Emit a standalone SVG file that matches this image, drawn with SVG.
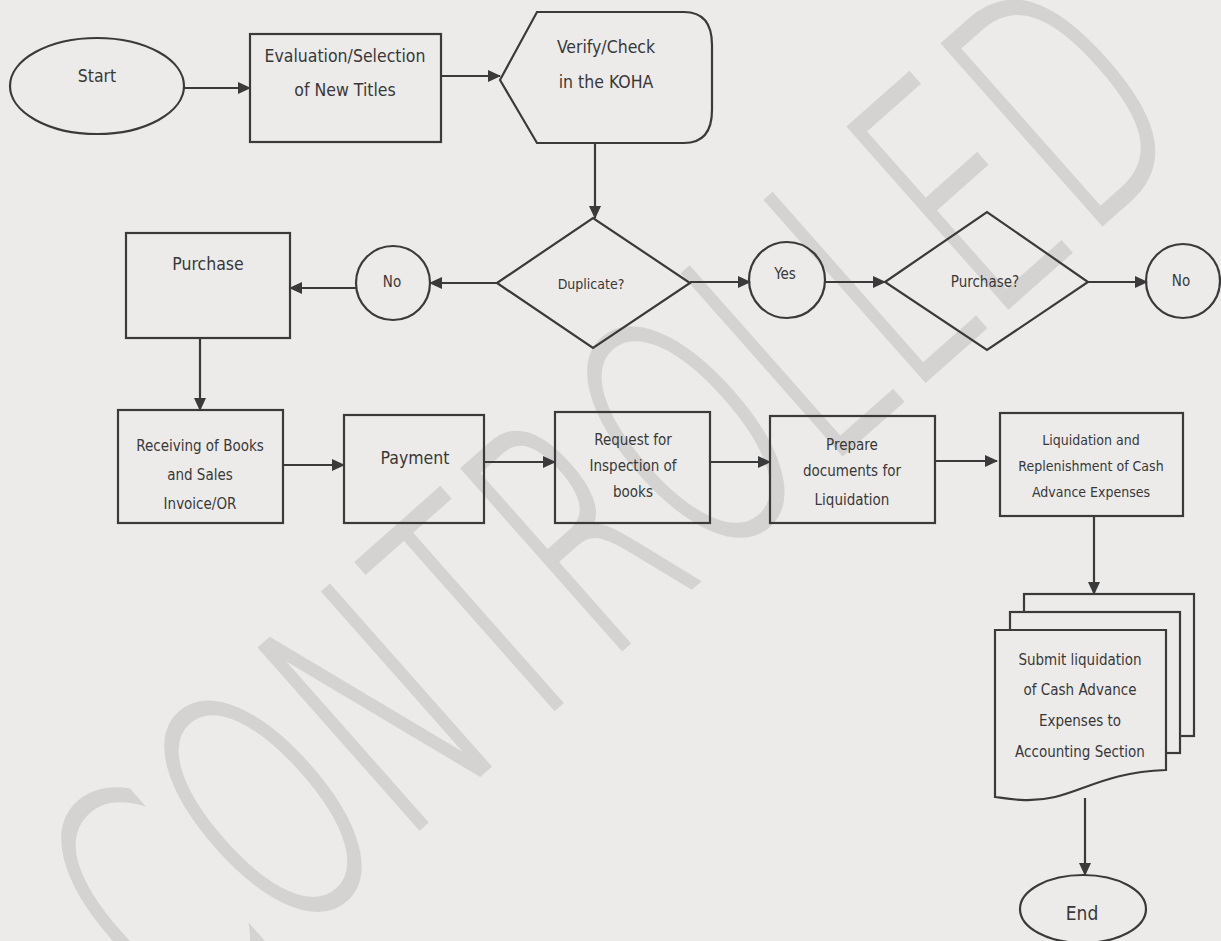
<svg xmlns="http://www.w3.org/2000/svg" width="1221" height="941" viewBox="0 0 1221 941">
  <style>
    .shape { fill: none; stroke: #3a3a3a; stroke-width: 2.2; }
    .page { fill: #ecebea; stroke: #3a3a3a; stroke-width: 2.2; }
    .edge { fill: none; stroke: #3a3a3a; stroke-width: 2.2; }
    .lbl { font-family: "Liberation Sans Narrow", "DejaVu Sans Condensed", "Liberation Sans", sans-serif; fill: #383838; text-anchor: middle; dominant-baseline: central; font-size: 17.5px; }
    .sm { font-size: 15px; }
    .xs { font-size: 14px; }
    .wm { font-family: "DejaVu Sans", "Liberation Sans", sans-serif; font-weight: 200; fill: #d5d2d2; stroke: #d5d2d2; stroke-width: 4; font-size: 330px; }
  </style>
  <defs>
    <marker id="arrow" markerUnits="userSpaceOnUse" markerWidth="13" markerHeight="12" refX="12" refY="6" orient="auto">
      <path d="M0,0 L13,6 L0,12 z" fill="#3a3a3a"/>
    </marker>
  </defs>

  <!-- paper -->
  <rect x="0" y="0" width="1221" height="941" fill="#ecebea"/>

  <!-- diagonal watermark -->
  <text class="wm" x="180" y="1040" textLength="1360" lengthAdjust="spacingAndGlyphs" transform="rotate(-41.5 180 1040)">CONTROLLED</text>

  <!-- connectors -->
  <g id="connectors">
    <line class="edge" x1="184" y1="88" x2="250" y2="88" marker-end="url(#arrow)"/>
    <line class="edge" x1="441" y1="76" x2="500" y2="76" marker-end="url(#arrow)"/>
    <line class="edge" x1="595" y1="143" x2="595" y2="218" marker-end="url(#arrow)"/>
    <line class="edge" x1="497" y1="283" x2="430" y2="283" marker-end="url(#arrow)"/>
    <line class="edge" x1="356" y1="288" x2="290" y2="288" stroke-width="4" marker-end="url(#arrow)"/>
    <line class="edge" x1="200" y1="338" x2="200" y2="410" marker-end="url(#arrow)"/>
    <line class="edge" x1="690" y1="282" x2="750" y2="282" marker-end="url(#arrow)"/>
    <line class="edge" x1="825" y1="282" x2="885" y2="282" marker-end="url(#arrow)"/>
    <line class="edge" x1="1088" y1="282" x2="1147" y2="282" marker-end="url(#arrow)"/>
    <line class="edge" x1="283" y1="465" x2="344" y2="465" marker-end="url(#arrow)"/>
    <line class="edge" x1="484" y1="462" x2="555" y2="462" marker-end="url(#arrow)"/>
    <line class="edge" x1="710" y1="462" x2="770" y2="462" marker-end="url(#arrow)"/>
    <line class="edge" x1="935" y1="461" x2="997" y2="461" marker-end="url(#arrow)"/>
    <line class="edge" x1="1094" y1="516" x2="1094" y2="594" marker-end="url(#arrow)"/>
    <line class="edge" x1="1085" y1="798" x2="1085" y2="875" marker-end="url(#arrow)"/>
  </g>

  <g id="start">
    <ellipse class="shape" cx="97" cy="86" rx="87" ry="48"/>
    <text class="lbl" x="97" y="76">Start</text>
  </g>

  <g id="evaluation">
    <rect class="shape" x="250" y="34" width="191" height="108"/>
    <text class="lbl" x="345" y="56">Evaluation/Selection</text>
    <text class="lbl" x="345" y="90">of New Titles</text>
  </g>

  <g id="verify">
    <path class="shape" d="M500,80 L537,12 L684,12 Q712,12 712,45 L712,110 Q712,143 684,143 L537,143 Z"/>
    <text class="lbl" x="606" y="47">Verify/Check</text>
    <text class="lbl" x="606" y="82">in the KOHA</text>
  </g>

  <g id="duplicate">
    <polygon class="shape" points="497,283 593,218 690,283 593,348"/>
    <text class="lbl" x="591" y="284" style="font-size:14px">Duplicate?</text>
  </g>

  <g id="no-left">
    <circle class="shape" cx="393" cy="283" r="37"/>
    <text class="lbl sm" x="392" y="282">No</text>
  </g>

  <g id="purchase">
    <rect class="shape" x="126" y="233" width="164" height="105"/>
    <text class="lbl" x="208" y="264">Purchase</text>
  </g>

  <g id="yes">
    <circle class="shape" cx="787" cy="280" r="38"/>
    <text class="lbl sm" x="785" y="274">Yes</text>
  </g>

  <g id="purchase-decision">
    <polygon class="shape" points="885,282 987,212 1088,282 987,350"/>
    <text class="lbl sm" x="985" y="282">Purchase?</text>
  </g>

  <g id="no-right">
    <circle class="shape" cx="1183" cy="281" r="37"/>
    <text class="lbl sm" x="1181" y="281">No</text>
  </g>

  <g id="receiving">
    <rect class="shape" x="118" y="410" width="165" height="113"/>
    <text class="lbl sm" x="200" y="446">Receiving of Books</text>
    <text class="lbl sm" x="200" y="475">and Sales</text>
    <text class="lbl sm" x="200" y="504">Invoice/OR</text>
  </g>

  <g id="payment">
    <rect class="shape" x="344" y="415" width="140" height="108"/>
    <text class="lbl" x="415" y="458">Payment</text>
  </g>

  <g id="request">
    <rect class="shape" x="555" y="412" width="155" height="111"/>
    <text class="lbl sm" x="633" y="440">Request for</text>
    <text class="lbl sm" x="633" y="466">Inspection of</text>
    <text class="lbl sm" x="633" y="492">books</text>
  </g>

  <g id="prepare">
    <rect class="shape" x="770" y="416" width="165" height="107"/>
    <text class="lbl sm" x="852" y="445">Prepare</text>
    <text class="lbl sm" x="852" y="471">documents for</text>
    <text class="lbl sm" x="852" y="500">Liquidation</text>
  </g>

  <g id="liquidation">
    <rect class="shape" x="1000" y="413" width="183" height="103"/>
    <text class="lbl xs" x="1091" y="440">Liquidation and</text>
    <text class="lbl xs" x="1091" y="466">Replenishment of Cash</text>
    <text class="lbl xs" x="1091" y="492">Advance Expenses</text>
  </g>

  <g id="submit">
    <rect class="page" x="1024" y="594" width="170" height="142"/>
    <rect class="page" x="1010" y="612" width="170" height="141"/>
    <path class="page" d="M995,630 L1166,630 L1166,770 C1110,772 1085,790 1055,797 C1030,803 1010,799 995,797 Z"/>
    <text class="lbl sm" x="1080" y="660">Submit liquidation</text>
    <text class="lbl sm" x="1080" y="690">of Cash Advance</text>
    <text class="lbl sm" x="1080" y="721">Expenses to</text>
    <text class="lbl sm" x="1080" y="752">Accounting Section</text>
  </g>

  <g id="end">
    <ellipse class="shape" cx="1083" cy="909" rx="63" ry="34"/>
    <text class="lbl" x="1082" y="913" style="font-size:19px">End</text>
  </g>
</svg>
